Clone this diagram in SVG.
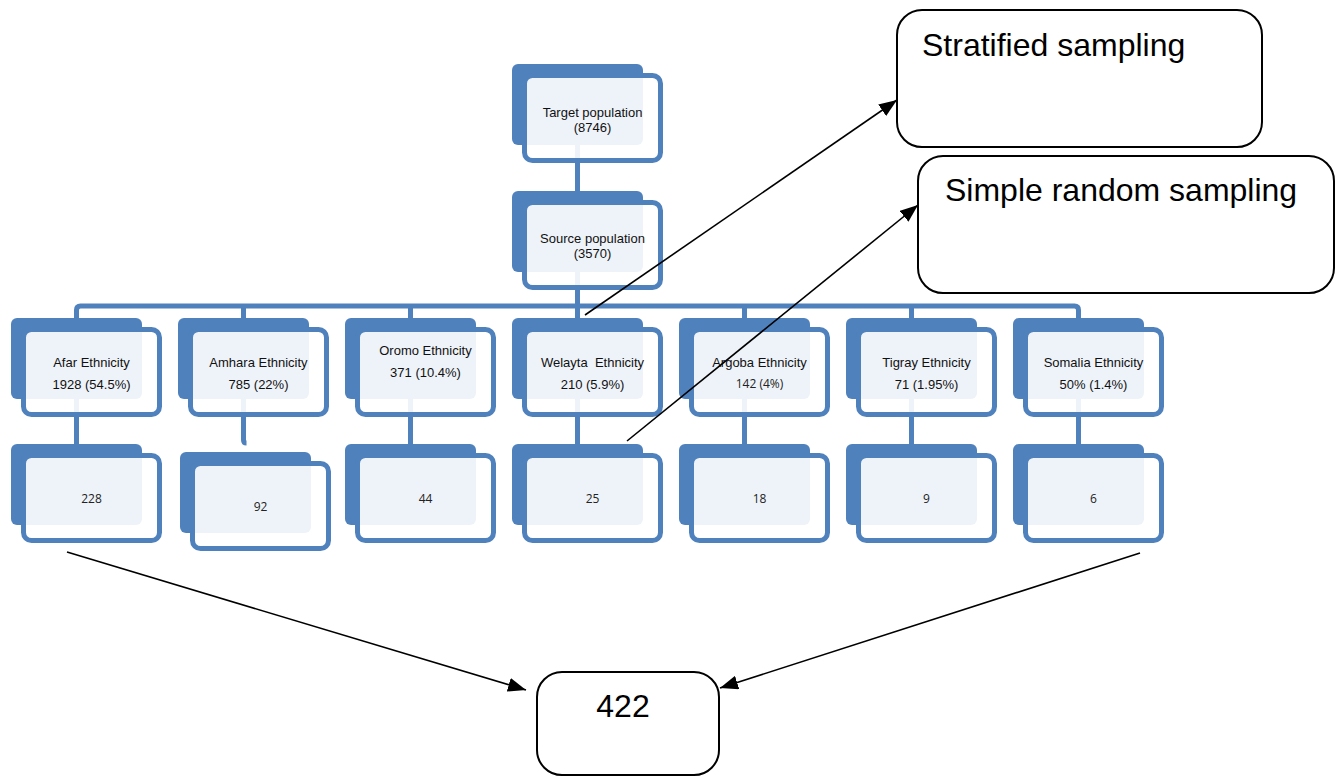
<svg xmlns="http://www.w3.org/2000/svg" width="1341" height="777" viewBox="0 0 1341 777">
<style>
.bk{fill:#4f81bd}
.fr{fill:#fff;fill-opacity:0.9;stroke:#4f81bd;stroke-width:5}
.cn{fill:none;stroke:#4f81bd;stroke-width:5}
.t{font-family:"Liberation Sans",Arial,sans-serif;font-size:13px;fill:#111;text-anchor:middle}
.c{font-family:"Open Sans","Liberation Sans",sans-serif;font-size:12px;fill:#222;text-anchor:middle}
.bx{fill:#fff;stroke:#000;stroke-width:2}
.bt{font-family:"Liberation Sans",Arial,sans-serif;font-size:32px;fill:#000}
.ar{fill:none;stroke:#000;stroke-width:1.6;marker-end:url(#ah)}
</style>
<defs>
<marker id="ah" markerUnits="userSpaceOnUse" markerWidth="20" markerHeight="14" refX="18" refY="7" orient="auto">
<path d="M0,0 L18,7 L0,14 z" fill="#000"/>
</marker>
</defs>
<rect width="1341" height="777" fill="#fff"/>
<g id="connectors">
<path class="cn" d="M577.5,145 V191"/>
<path class="cn" d="M577.5,271 V318"/>
<path class="cn" d="M76.5,318 V310 Q76.5,306 80.5,306 H1074.5 Q1078.5,306 1078.5,310 V318"/>
<path class="cn" d="M243.5,306 V318 M410.5,306 V318 M744.5,306 V318 M911.5,306 V318"/>
<path class="cn" d="M76.5,399 V444 M410.5,399 V444 M577.5,399 V444 M744.5,399 V444 M911.5,399 V444 M1078.5,399 V444"/>
<path class="cn" d="M243.5,399 V440 Q243.5,443 246.5,443"/>
</g>
<g id="target">
<rect class="bk" x="512" y="64" width="131" height="81" rx="6"/>
<rect class="fr" x="524.5" y="75.5" width="136" height="85" rx="8"/>
<text class="t" x="592.5" y="117">Target population</text>
<text class="t" x="592.5" y="132">(8746)</text>
</g>
<g id="source">
<rect class="bk" x="512" y="191" width="131" height="81" rx="6"/>
<rect class="fr" x="524.5" y="202.5" width="136" height="85" rx="8"/>
<text class="t" x="592.5" y="243">Source population</text>
<text class="t" x="592.5" y="258">(3570)</text>
</g>
<g id="afar">
<rect class="bk" x="11" y="318" width="131" height="81" rx="6"/>
<rect class="fr" x="23.5" y="329.5" width="136" height="85" rx="8"/>
<text class="t" x="91.5" y="367">Afar Ethnicity</text>
<text class="t" x="91.5" y="389">1928 (54.5%)</text>
</g>
<g id="amhara">
<rect class="bk" x="178" y="318" width="131" height="81" rx="6"/>
<rect class="fr" x="190.5" y="329.5" width="136" height="85" rx="8"/>
<text class="t" x="258.5" y="367">Amhara Ethnicity</text>
<text class="t" x="258.5" y="389">785 (22%)</text>
</g>
<g id="oromo">
<rect class="bk" x="345" y="318" width="131" height="81" rx="6"/>
<rect class="fr" x="357.5" y="329.5" width="136" height="85" rx="8"/>
<text class="t" x="425.5" y="355">Oromo Ethnicity</text>
<text class="t" x="425.5" y="377">371 (10.4%)</text>
</g>
<g id="welayta">
<rect class="bk" x="512" y="318" width="131" height="81" rx="6"/>
<rect class="fr" x="524.5" y="329.5" width="136" height="85" rx="8"/>
<text class="t" x="592.5" y="367" xml:space="preserve">Welayta  Ethnicity</text>
<text class="t" x="592.5" y="389">210 (5.9%)</text>
</g>
<g id="argoba">
<rect class="bk" x="679" y="318" width="131" height="81" rx="6"/>
<rect class="fr" x="691.5" y="329.5" width="136" height="85" rx="8"/>
<text class="t" x="759.5" y="367">Argoba Ethnicity</text>
<text class="c" x="759.5" y="388">142 (4%)</text>
</g>
<g id="tigray">
<rect class="bk" x="846" y="318" width="131" height="81" rx="6"/>
<rect class="fr" x="858.5" y="329.5" width="136" height="85" rx="8"/>
<text class="t" x="926.5" y="367">Tigray Ethnicity</text>
<text class="t" x="926.5" y="389">71 (1.95%)</text>
</g>
<g id="somalia">
<rect class="bk" x="1013" y="318" width="131" height="81" rx="6"/>
<rect class="fr" x="1025.5" y="329.5" width="136" height="85" rx="8"/>
<text class="t" x="1093.5" y="367">Somalia Ethnicity</text>
<text class="t" x="1093.5" y="389">50% (1.4%)</text>
</g>
<g id="n228">
<rect class="bk" x="11" y="444" width="131" height="81" rx="6"/>
<rect class="fr" x="23.5" y="455.5" width="136" height="85" rx="8"/>
<text class="c" x="91.5" y="503">228</text>
</g>
<g id="n92">
<rect class="bk" x="180" y="452" width="131" height="81" rx="6"/>
<rect class="fr" x="192.5" y="463.5" width="136" height="85" rx="8"/>
<text class="c" x="260.5" y="511">92</text>
</g>
<g id="n44">
<rect class="bk" x="345" y="444" width="131" height="81" rx="6"/>
<rect class="fr" x="357.5" y="455.5" width="136" height="85" rx="8"/>
<text class="c" x="425.5" y="503">44</text>
</g>
<g id="n25">
<rect class="bk" x="512" y="444" width="131" height="81" rx="6"/>
<rect class="fr" x="524.5" y="455.5" width="136" height="85" rx="8"/>
<text class="c" x="592.5" y="503">25</text>
</g>
<g id="n18">
<rect class="bk" x="679" y="444" width="131" height="81" rx="6"/>
<rect class="fr" x="691.5" y="455.5" width="136" height="85" rx="8"/>
<text class="c" x="759.5" y="503">18</text>
</g>
<g id="n9">
<rect class="bk" x="846" y="444" width="131" height="81" rx="6"/>
<rect class="fr" x="858.5" y="455.5" width="136" height="85" rx="8"/>
<text class="c" x="926.5" y="503">9</text>
</g>
<g id="n6">
<rect class="bk" x="1013" y="444" width="131" height="81" rx="6"/>
<rect class="fr" x="1025.5" y="455.5" width="136" height="85" rx="8"/>
<text class="c" x="1093.5" y="503">6</text>
</g>
<g id="stratified">
<rect class="bx" x="897" y="10" width="365" height="137" rx="25"/>
<text class="bt" x="922" y="56">Stratified sampling</text>
</g>
<g id="simple">
<rect class="bx" x="918" y="156" width="416" height="137" rx="25"/>
<text class="bt" x="945" y="201">Simple random sampling</text>
</g>
<g id="total">
<rect class="bx" x="537" y="672" width="182" height="103" rx="25"/>
<text class="bt" x="623" y="717" text-anchor="middle">422</text>
</g>
<g id="arrows">
<line class="ar" x1="585" y1="315" x2="897" y2="100"/>
<line class="ar" x1="627" y1="441" x2="918" y2="205"/>
<line class="ar" x1="67" y1="552" x2="526" y2="690"/>
<line class="ar" x1="1140" y1="553" x2="720" y2="688"/>
</g>
</svg>
